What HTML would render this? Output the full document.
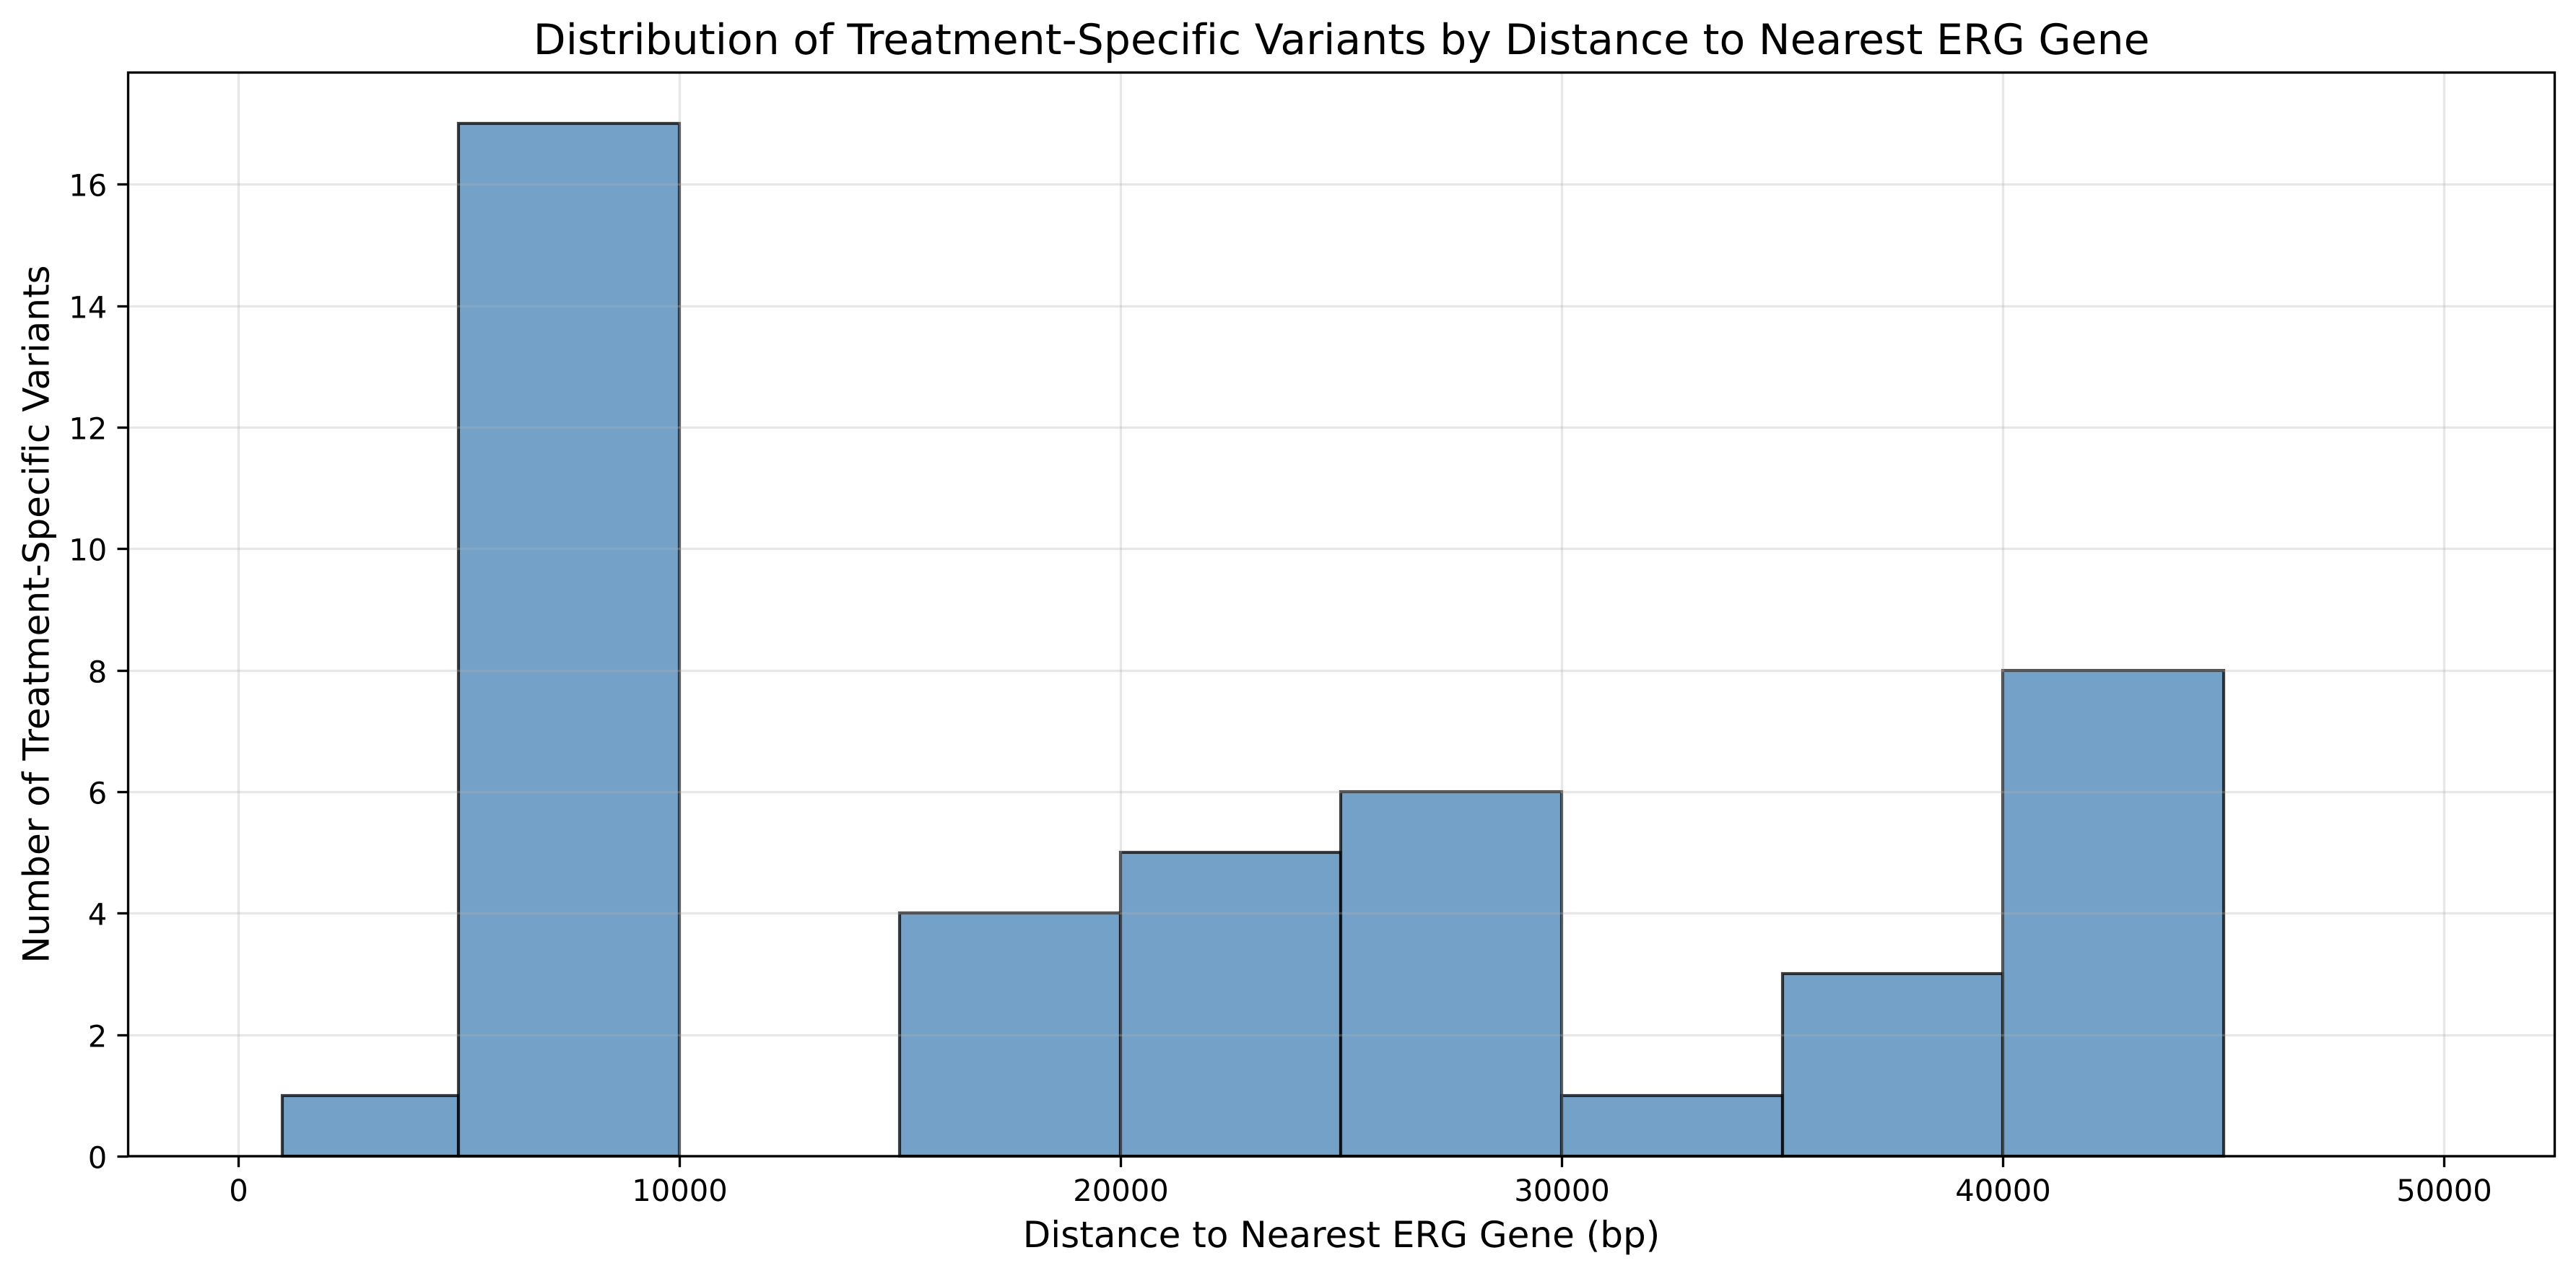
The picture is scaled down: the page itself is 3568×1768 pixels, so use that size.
<!DOCTYPE html>
<html lang="en">
<head>
<meta charset="utf-8">
<title>Distribution of Treatment-Specific Variants by Distance to Nearest ERG Gene</title>
<style>
html,body{margin:0;padding:0;background:#fff;width:3568px;height:1768px;overflow:hidden}
svg{display:block}
text{font-family:"DejaVu Sans","Liberation Sans",sans-serif;fill:#000;text-rendering:geometricPrecision;font-variant-ligatures:none;font-feature-settings:"liga" 0,"clig" 0}
</style>
</head>
<body>
<svg id="chart" xmlns="http://www.w3.org/2000/svg" width="3568" height="1768" viewBox="0 0 3568 1768">
  <rect x="0" y="0" width="3568" height="1768" fill="#ffffff"/>
  <rect x="177.5" y="100.5" width="3361" height="1501.5" fill="#ffffff"/>
  <g id="bars"></g>
  <g id="grid"></g>
  <g id="x-axis"></g>
  <g id="y-axis"></g>
  <rect x="177.5" y="100.5" width="3361" height="1501.5" fill="none" stroke="#000" stroke-width="3.33"/>
  <text x="1858.2" y="75" font-size="58.33" letter-spacing="0.06" text-anchor="middle">Distribution of Treatment-Specific Variants by Distance to Nearest ERG Gene</text>
  <text x="1858" y="1728" font-size="50" text-anchor="middle">Distance to Nearest ERG Gene (bp)</text>
  <text transform="translate(67.5,851) rotate(-90)" font-size="50" text-anchor="middle">Number of Treatment-Specific Variants</text>
</svg>
<script>
const binEdges = [0, 1000, 5000, 10000, 15000, 20000, 25000, 30000, 35000, 40000, 45000, 50000];
const binCounts = [0, 1, 17, 0, 4, 5, 6, 1, 3, 8, 0];
const xTickValues = [0, 10000, 20000, 30000, 40000, 50000];
const xTickLabels = ["0", "10000", "20000", "30000", "40000", "50000"];
const yTickValues = [0, 2, 4, 6, 8, 10, 12, 14, 16];
const yTickLabels = ["0", "2", "4", "6", "8", "10", "12", "14", "16"];

const NS = 'http://www.w3.org/2000/svg';
const plot = { left: 177.3, right: 3538.7, top: 100, bottom: 1602.4 };
const xDomain = [-2500, 52500];
const yDomain = [0, 17.85];

function xScale(v) {
  return plot.left + (v - xDomain[0]) / (xDomain[1] - xDomain[0]) * (plot.right - plot.left);
}
function yScale(v) {
  return plot.bottom - (v - yDomain[0]) / (yDomain[1] - yDomain[0]) * (plot.bottom - plot.top);
}
function make(tag, attrs, parent) {
  const el = document.createElementNS(NS, tag);
  for (const k in attrs) el.setAttribute(k, attrs[k]);
  parent.appendChild(el);
  return el;
}

const barsG = document.getElementById('bars');
const gridG = document.getElementById('grid');
const xG = document.getElementById('x-axis');
const yG = document.getElementById('y-axis');

binCounts.forEach(function (count, i) {
  const x0 = Math.floor(xScale(binEdges[i]));
  const x1 = Math.floor(xScale(binEdges[i + 1]));
  const yTop = Math.floor(yScale(count));
  const yBase = Math.floor(yScale(0));
  const bar = make('rect', {
    x: x0, y: yTop, width: x1 - x0, height: yBase - yTop,
    fill: '#4682b4', 'fill-opacity': 0.75,
    stroke: '#000', 'stroke-opacity': 0.75, 'stroke-width': 4.17
  }, barsG);
  
  
});

xTickValues.forEach(function (v, i) {
  const x = Math.floor(xScale(v)) + 0.5;
  const line = make('line', {
    x1: x, x2: x, y1: 100.5, y2: 1602,
    stroke: '#b0b0b0', 'stroke-opacity': 0.3, 'stroke-width': 3.33
  }, gridG);
  
  
  const tick = make('line', {
    x1: x, x2: x, y1: 1602, y2: 1602 + 15.2,
    stroke: '#000', 'stroke-width': 3.33
  }, xG);
  
  
  const label = make('text', {
    x: x, y: 1664, 'font-size': 41.67, 'text-anchor': 'middle'
  }, xG);
  label.textContent = xTickLabels[i];
  
  
});

yTickValues.forEach(function (v, i) {
  const y = Math.floor(yScale(v)) + 0.5;
  const line = make('line', {
    x1: 177.5, x2: 3538.5, y1: y, y2: y,
    stroke: '#b0b0b0', 'stroke-opacity': 0.3, 'stroke-width': 3.33
  }, gridG);
  
  
  const tick = make('line', {
    x1: 177.5 - 15, x2: 177.5, y1: y, y2: y,
    stroke: '#000', 'stroke-width': 3.33
  }, yG);
  
  
  const label = make('text', {
    x: 148.3, y: y + 16, 'font-size': 41.67, 'text-anchor': 'end'
  }, yG);
  label.textContent = yTickLabels[i];
  
  
});
</script>
</body>
</html>
